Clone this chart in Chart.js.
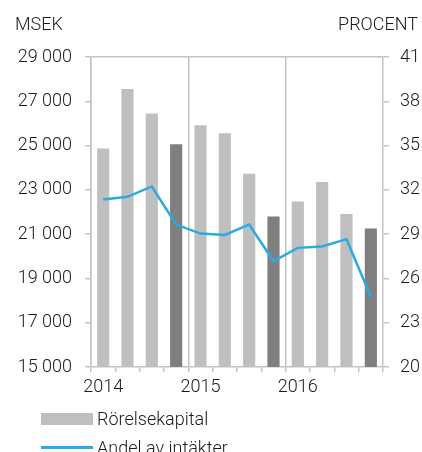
<!DOCTYPE html>
<html>
<head>
<meta charset="utf-8">
<script src="https://cdn.jsdelivr.net/npm/chart.js@4.4.1/dist/chart.umd.min.js"></script>
<style>
  html, body { margin: 0; padding: 0; background: #fff; }
  #wrap { position: relative; width: 422px; height: 452px; overflow: hidden; font-family: Roboto, "Liberation Sans", sans-serif; font-weight: 300; color: #1a1a1a; }
  canvas { position: absolute; left: 0; top: 0; }
  .lbl { position: absolute; font-size: 18px; line-height: 20px; white-space: nowrap; }
  .swatch { position: absolute; }
</style>
</head>
<body>
<div id="wrap">
  <canvas id="chart" width="422" height="452"></canvas>
  <div class="lbl" style="left:15px; top:14px;">MSEK</div>
  <div class="lbl" style="right:4px; top:14px;">PROCENT</div>
  <div class="swatch" style="left:41px; top:413px; width:52px; height:12px; background:#bfbfbf;"></div>
  <div class="lbl" style="left:97px; top:409px;">Rörelsekapital</div>
  <div class="swatch" style="left:41px; top:446px; width:52px; height:2.5px; background:#29abe2;"></div>
  <div class="lbl" style="left:97px; top:438px;">Andel av intäkter</div>
</div>
<script>
// quarters 2014 Q1 .. 2016 Q4
const quarters = ['2014 Q1', '2014 Q2', '2014 Q3', '2014 Q4',
                  '2015 Q1', '2015 Q2', '2015 Q3', '2015 Q4',
                  '2016 Q1', '2016 Q2', '2016 Q3', '2016 Q4'];
const yearLabels = ['2014', '', '', '', '2015', '', '', '', '2016', '', '', ''];

// Rörelsekapital, MSEK
const rorelsekapital = [24870, 27560, 26450, 25060, 25920, 25560, 23730, 21800, 22470, 23360, 21910, 21260];
// Andel av intäkter, procent
const andelAvIntakter = [31.35, 31.53, 32.23, 29.65, 29.04, 28.95, 29.65, 27.18, 28.07, 28.16, 28.66, 24.76];

const leftTicks = [15000, 17000, 19000, 21000, 23000, 25000, 27000, 29000];
const rightTicks = [20, 23, 26, 29, 32, 35, 38, 41];

const GRID = '#c4c4c4';
const FONT = { family: 'Roboto, "Liberation Sans", sans-serif', size: 18, weight: 300 };

function fmt(v) {
    return String(v).replace(/\B(?=(\d{3})+(?!\d))/g, ' ');
}

const barColors = quarters.map((q, i) => (i % 4 === 3 ? '#7f7f7f' : '#bfbfbf'));

new Chart(document.getElementById('chart'), {
    data: {
        labels: quarters,
        datasets: [
            {
                type: 'line',
                label: 'Andel av intäkter',
                data: andelAvIntakter,
                yAxisID: 'y2',
                borderColor: '#29abe2',
                borderWidth: 2.5,
                pointRadius: 0,
                tension: 0,
                order: 0
            },
            {
                type: 'bar',
                label: 'Rörelsekapital',
                data: rorelsekapital,
                yAxisID: 'y',
                backgroundColor: barColors,
                barPercentage: 0.5,
                categoryPercentage: 1,
                order: 1
            }
        ]
    },
    options: {
        responsive: false,
        animation: false,
        events: [],
        layout: { padding: { top: 57, bottom: 45, left: 0, right: 0 } },
        plugins: { legend: { display: false }, tooltip: { enabled: false } },
        scales: {
            x: {
                offset: true,
                grid: {
                    offset: true,
                    color: ctx => (ctx.index % 4 === 0 ? GRID : 'transparent'),
                    tickColor: GRID,
                    lineWidth: 1.5,
                    tickLength: 5
                },
                border: { color: GRID, width: 1.5 },
                ticks: {
                    autoSkip: false,
                    maxRotation: 0,
                    padding: 5,
                    color: '#1a1a1a',
                    font: FONT,
                    callback: (v, i) => yearLabels[i]
                },
                afterFit: s => { s.height = 40; }
            },
            y: {
                position: 'left',
                min: 15000,
                max: 29000,
                afterBuildTicks: s => { s.ticks = leftTicks.map(v => ({ value: v })); },
                grid: {
                    color: ctx => (ctx.tick && ctx.tick.value === 29000 ? GRID : 'transparent'),
                    tickColor: GRID,
                    lineWidth: 1.5,
                    tickLength: 6
                },
                border: { color: GRID, width: 1.5 },
                ticks: { padding: 13, color: '#1a1a1a', font: FONT, callback: v => fmt(v) },
                afterFit: s => { s.width = 91; }
            },
            y2: {
                position: 'right',
                min: 20,
                max: 41,
                afterBuildTicks: s => { s.ticks = rightTicks.map(v => ({ value: v })); },
                grid: { drawOnChartArea: false, tickColor: GRID, lineWidth: 1.5, tickLength: 6 },
                border: { color: GRID, width: 1.5 },
                ticks: { padding: 11, color: '#1a1a1a', font: FONT },
                afterFit: s => { s.width = 39; }
            }
        }
    }
});
</script>
</body>
</html>
